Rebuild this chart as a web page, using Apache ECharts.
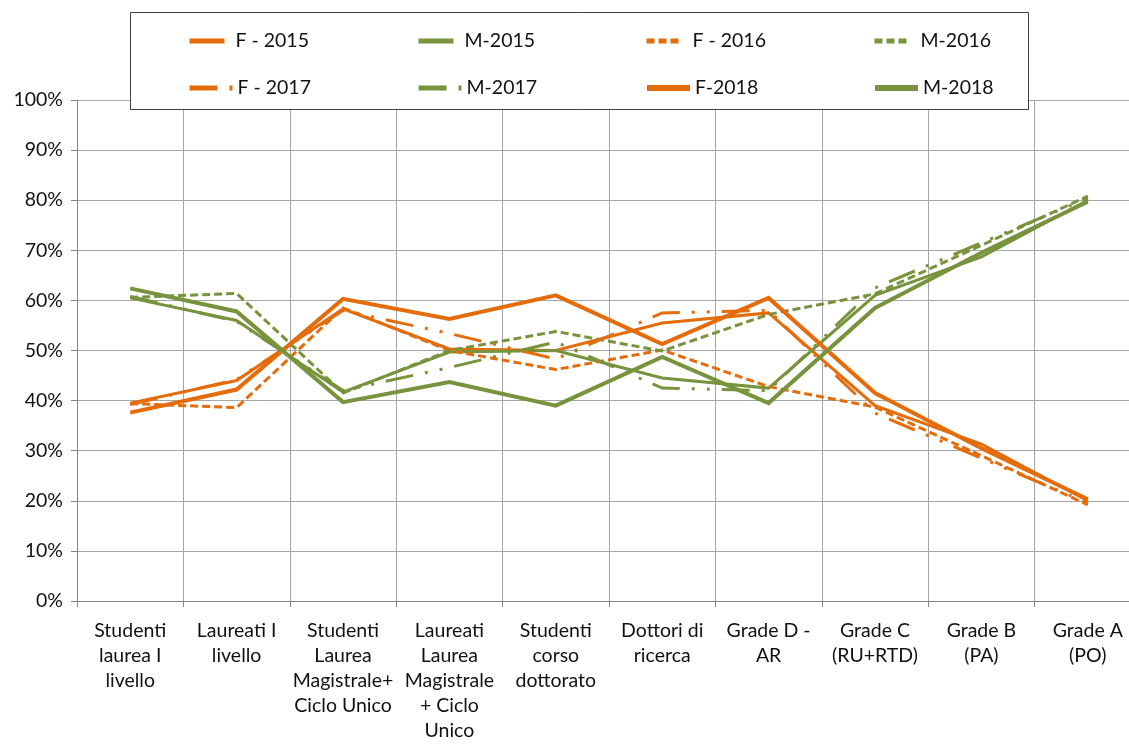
<!DOCTYPE html>
<html>
<head>
<meta charset="utf-8">
<script src="https://cdn.jsdelivr.net/npm/echarts@6/dist/echarts.min.js"></script>
<style>
html,body{margin:0;padding:0;background:#fff;overflow:hidden;width:1129px;height:745px;}
#chart{width:1141px;height:745px;}
</style>
</head>
<body>
<div id="chart"></div>
<script>
// ---- data ----
const categories = [
  "Studenti\nlaurea I\nlivello",
  "Laureati I\nlivello",
  "Studenti\nLaurea\nMagistrale+\nCiclo Unico",
  "Laureati\nLaurea\nMagistrale\n+ Ciclo\nUnico",
  "Studenti\ncorso\ndottorato",
  "Dottori di\nricerca",
  "Grade D -\nAR",
  "Grade C\n(RU+RTD)",
  "Grade B\n(PA)",
  "Grade A\n(PO)"
];
const seriesNames = ["F - 2015","M-2015","F - 2016","M-2016","F - 2017","M-2017","F-2018","M-2018"];
const F2015 = [39.5, 44.0, 58.3, 50.3, 50.0, 55.5, 57.5, 39.0, 31.3, 20.0];
const M2015 = [60.5, 56.0, 41.7, 49.7, 50.0, 44.5, 42.5, 61.0, 68.7, 80.0];
const F2016 = [39.4, 38.6, 58.5, 50.0, 46.2, 50.1, 42.8, 38.7, 29.0, 19.2];
const M2016 = [60.6, 61.4, 41.5, 50.0, 53.8, 49.9, 57.2, 61.3, 71.0, 80.8];
const F2017 = [39.2, 44.2, 58.0, 53.4, 48.3, 57.5, 58.0, 37.5, 28.5, 19.6];
const M2017 = [60.8, 55.8, 42.0, 46.6, 51.7, 42.5, 42.0, 62.5, 71.5, 80.4];
const F2018 = [37.6, 42.2, 60.3, 56.3, 61.0, 51.3, 60.5, 41.5, 30.5, 20.3];
const M2018 = [62.4, 57.8, 39.7, 43.7, 39.0, 48.7, 39.5, 58.5, 69.5, 79.7];
const yTicks = [0,10,20,30,40,50,60,70,80,90,100];

// ---- styles ----
const ORANGE = '#E46C0A';
const GREEN = '#77933C';
const FONT = 'Lato';
const DASH16 = [8, 4];
const DASH17 = [28, 12, 3, 12, 3, 12];
const styles = [
  {c: ORANGE, w: 3, t: 'solid', lw: 5},
  {c: GREEN,  w: 3, t: 'solid', lw: 5},
  {c: ORANGE, w: 3, t: DASH16, lw: 5},
  {c: GREEN,  w: 3, t: DASH16, lw: 5},
  {c: ORANGE, w: 3, t: DASH17, lw: 5},
  {c: GREEN,  w: 3, t: DASH17, lw: 5},
  {c: ORANGE, w: 4, t: 'solid', lw: 6},
  {c: GREEN,  w: 4, t: 'solid', lw: 6}
];
const dataArr = [F2015, M2015, F2016, M2016, F2017, M2017, F2018, M2018];

const series = seriesNames.map((n, i) => ({
  name: n,
  type: 'line',
  data: dataArr[i],
  symbol: 'none',
  showSymbol: false,
  smooth: false,
  animation: false,
  z: 2 + (i >= 6 ? 1 : 0),
  lineStyle: {color: styles[i].c, width: styles[i].w, type: styles[i].t, cap: 'butt', join: 'miter'},
  itemStyle: {color: styles[i].c}
}));

const colLeft = [187, 416, 644, 872];
const rowTop = [31, 78];
const legends = seriesNames.map((n, i) => {
  const row = Math.floor(i / 4);
  return {
    data: [n],
    left: colLeft[i % 4],
    top: rowTop[row],
    orient: 'horizontal',
    padding: 0,
    itemWidth: row === 0 ? 35 : 43,
    itemHeight: 14,
    z: 100,
    textStyle: {fontFamily: FONT, fontSize: 19.5, color: '#111', padding: [0, 0, 0, row === 0 ? 6 : 0]},
    lineStyle: {width: styles[i].lw, type: styles[i].t, cap: 'butt'},
    itemStyle: {opacity: 0, borderWidth: 0},
    selectedMode: false
  };
});

const chart = echarts.init(document.getElementById('chart'), null, {renderer: 'canvas'});
chart.setOption({
  backgroundColor: '#fff',
  animation: false,
  grid: {left: 77, right: 0, top: 100, bottom: 144, containLabel: false},
  graphic: [{
    type: 'rect',
    z: 50,
    shape: {x: 130.5, y: 12.5, width: 898, height: 97},
    style: {fill: '#fff', stroke: '#404040', lineWidth: 1}
  }],
  legend: legends,
  xAxis: {
    type: 'category',
    data: categories,
    boundaryGap: true,
    axisLine: {lineStyle: {color: '#868686', width: 1}},
    axisTick: {show: true, length: 6, interval: 0, lineStyle: {color: '#868686'}},
    splitLine: {show: true, interval: 0, lineStyle: {color: '#A6A6A6', width: 1}},
    axisLabel: {interval: 0, margin: 17, fontFamily: FONT, fontSize: 19.5, color: '#111', lineHeight: 25, align: 'center'}
  },
  yAxis: {
    type: 'value',
    min: 0, max: 100, interval: 10,
    axisLine: {show: true, lineStyle: {color: '#868686', width: 1}},
    axisTick: {show: true, length: 6, lineStyle: {color: '#868686'}},
    splitLine: {show: true, lineStyle: {color: '#A6A6A6', width: 1}},
    axisLabel: {margin: 14, fontFamily: FONT, fontSize: 19.5, color: '#111',
      formatter: v => yTicks.indexOf(v) >= 0 ? v + '%' : ''}
  },
  series: series
});
</script>
</body>
</html>
